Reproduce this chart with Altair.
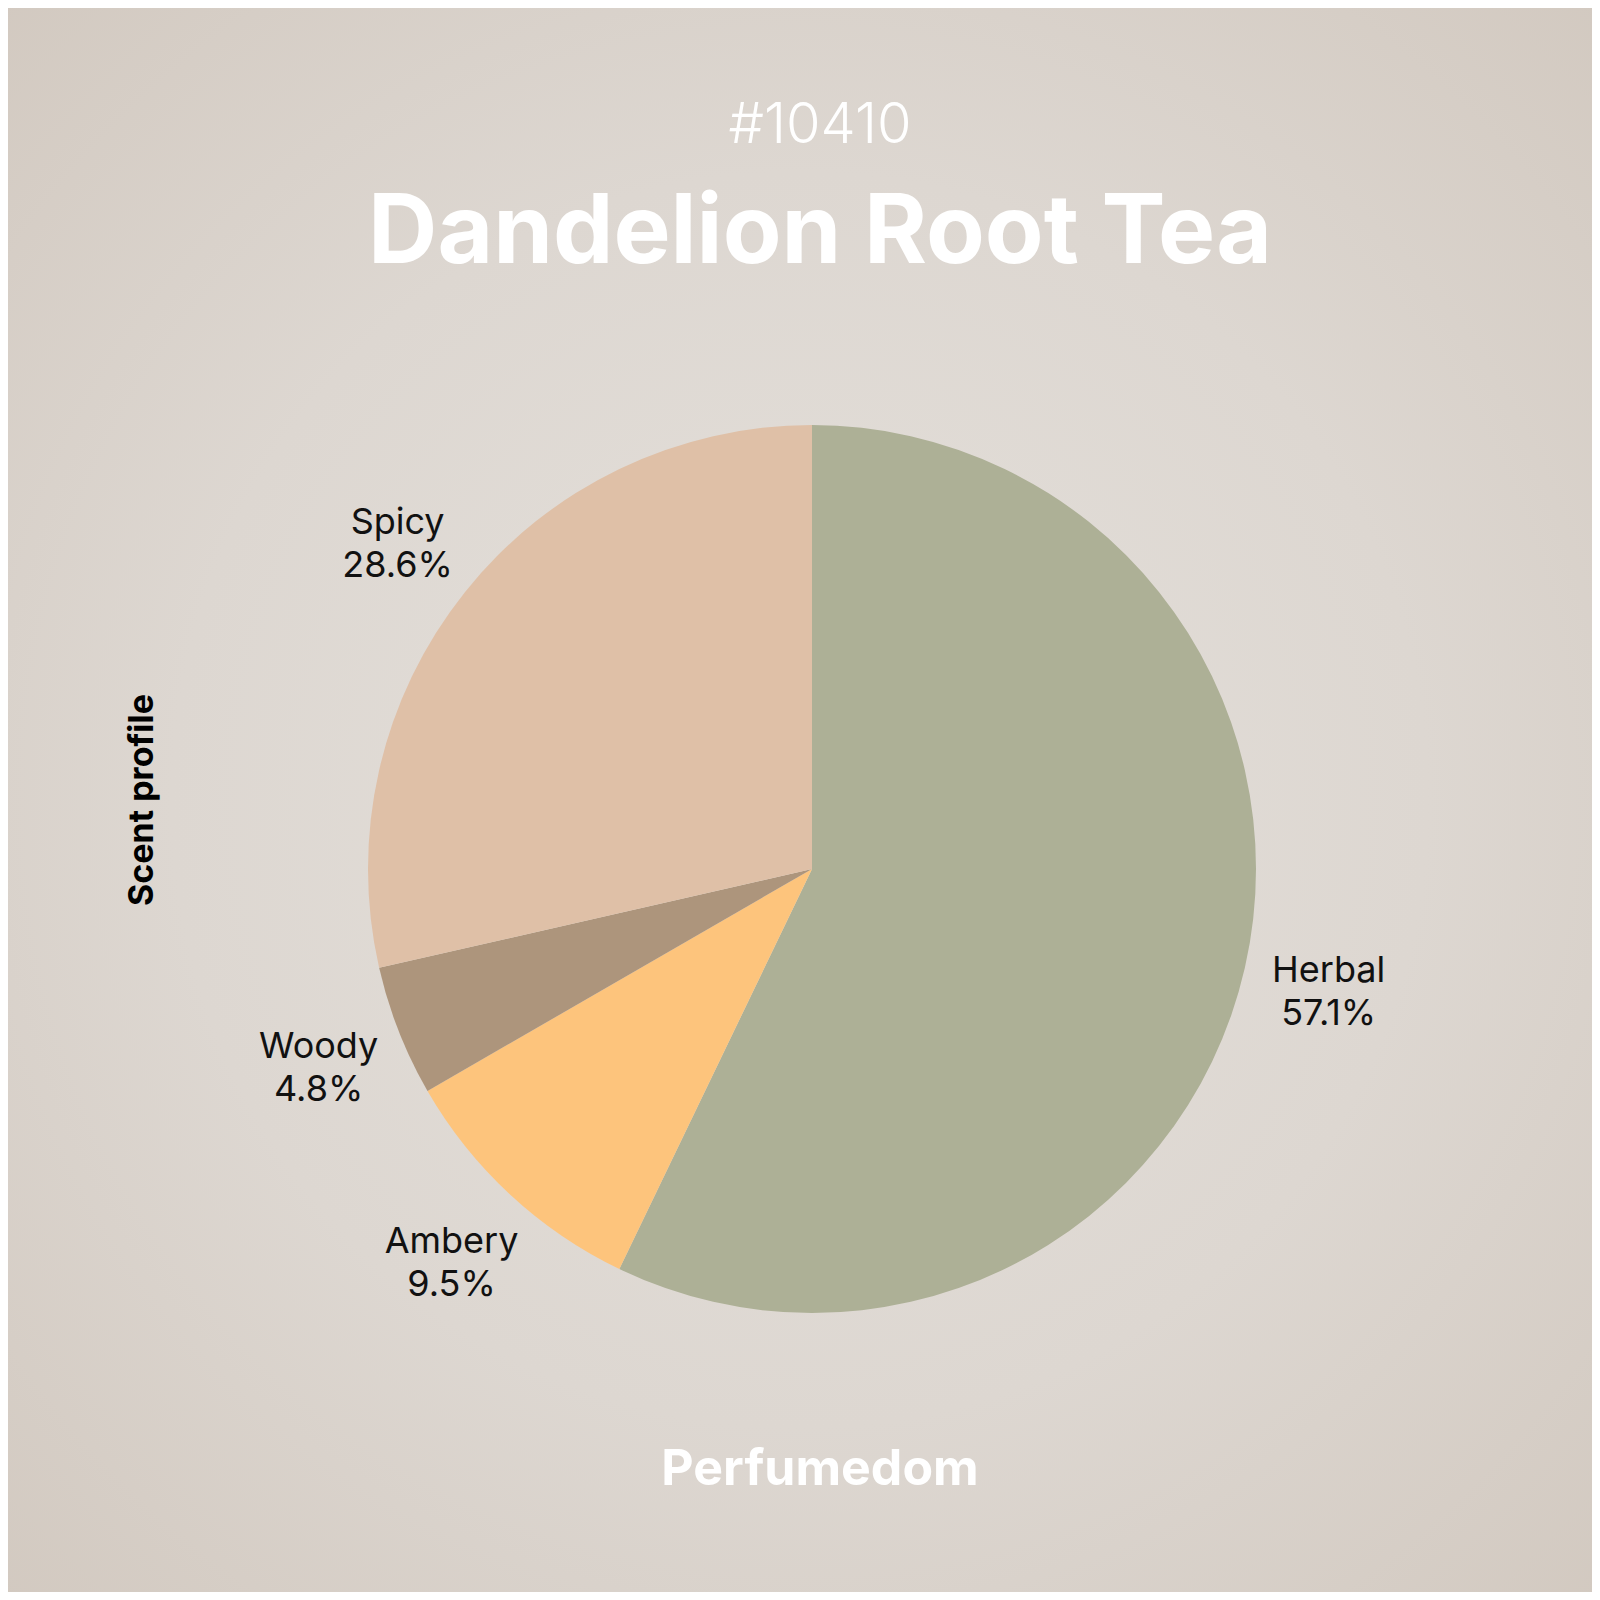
import altair as alt
import pandas as pd

# ---- data ----
categories = ["Herbal", "Ambery", "Woody", "Spicy"]
counts = [12, 2, 1, 6]
slice_colors = ["#adb096", "#fdc47c", "#ad957c", "#dfc0a7"]
slice_order = [0, 1, 2, 3]

code_text = ["#10410"]
title_text = ["Dandelion Root Tea"]
side_text = ["Scent profile"]
footer_text = ["Perfumedom"]

W, H = 1584, 1584
CX, CY = 804, 861
R = 444
FONT = "Inter"

df = pd.DataFrame({"cat": categories, "count": counts, "ord": slice_order})

bg = alt.Chart(pd.DataFrame({"a": [0]})).mark_rect(
    color={
        "gradient": "radial",
        "x1": 0.5, "y1": 0.5, "r1": 0,
        "x2": 0.5, "y2": 0.5, "r2": 0.72,
        "stops": [
            {"offset": 0, "color": "#e4e0db"},
            {"offset": 0.55, "color": "#ddd7d1"},
            {"offset": 1, "color": "#d2c9c0"},
        ],
    }
).encode(x=alt.value(0), x2=alt.value(W), y=alt.value(0), y2=alt.value(H))

base = alt.Chart(df).transform_joinaggregate(
    total="sum(count)"
).transform_calculate(
    pct="datum.count / datum.total * 100",
    label="datum.cat + '\\n' + format(datum.pct, '.1f') + '%'",
)

arcs = base.mark_arc(radius=R, stroke=None).encode(
    theta=alt.Theta("count:Q", stack=True),
    order=alt.Order("ord:Q"),
    color=alt.Color(
        "cat:N",
        scale=alt.Scale(domain=categories, range=slice_colors),
        legend=None,
    ),
    x=alt.value(CX),
    y=alt.value(CY),
)

labels = base.mark_text(
    radius=530, font=FONT, fontSize=36, lineBreak="\n", lineHeight=43,
    color="#111111", align="center", baseline="middle", dy=-16,
).encode(
    theta=alt.Theta("count:Q", stack=True),
    order=alt.Order("ord:Q"),
    text="label:N",
    x=alt.value(CX),
    y=alt.value(CY),
)

code = alt.Chart(pd.DataFrame({"t": code_text})).mark_text(
    font=FONT, fontSize=56, fontWeight=300, color="#ffffff",
    align="center", baseline="alphabetic",
).encode(text="t:N", x=alt.value(812), y=alt.value(135))

title = alt.Chart(pd.DataFrame({"t": title_text})).mark_text(
    font=FONT, fontSize=96, fontWeight="bold", color="#ffffff",
    align="center", baseline="alphabetic",
).encode(text="t:N", x=alt.value(812), y=alt.value(255))

side = alt.Chart(pd.DataFrame({"t": side_text})).mark_text(
    font=FONT, fontSize=34, fontWeight="bold", color="#000000",
    align="center", baseline="middle", angle=270,
).encode(text="t:N", x=alt.value(135), y=alt.value(792))

footer = alt.Chart(pd.DataFrame({"t": footer_text})).mark_text(
    font=FONT, fontSize=50, fontWeight="bold", color="#ffffff",
    align="center", baseline="alphabetic",
).encode(text="t:N", x=alt.value(812), y=alt.value(1477))

chart = alt.layer(bg, arcs, labels, code, title, side, footer).properties(
    width=W, height=H, padding=0, autosize="none", background="#d8d1ca"
).configure_view(stroke=None)

chart.save("out.html", embed_options={"renderer": "svg", "actions": False})
